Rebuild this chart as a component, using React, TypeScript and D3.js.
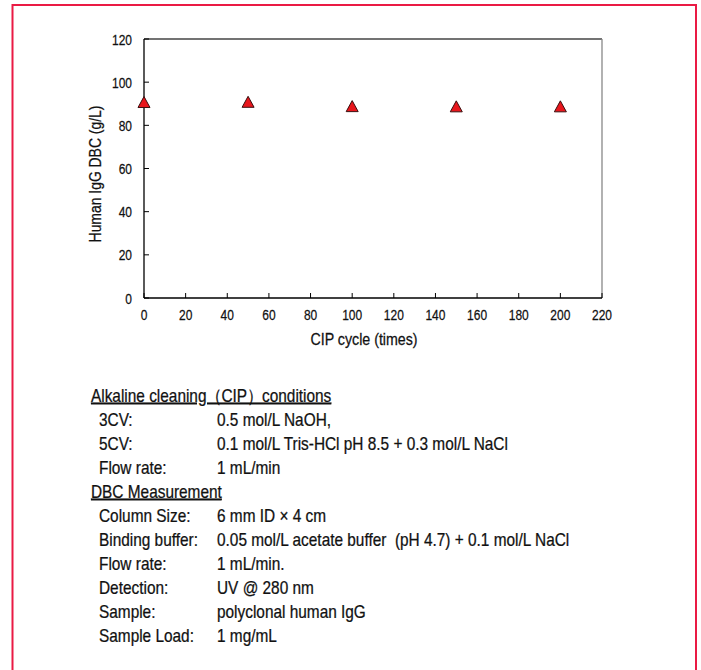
import React from 'react';
import * as d3 from 'd3';

// CIP cycle count vs dynamic binding capacity
const cycles = [0, 50, 100, 150, 200];
const dbcValues = [90.8, 90.9, 88.9, 88.8, 88.8];

const xTicks = [0, 20, 40, 60, 80, 100, 120, 140, 160, 180, 200, 220];
const yTicks = [0, 20, 40, 60, 80, 100, 120];

const xTitle = 'CIP cycle (times)';
const yTitle = 'Human IgG DBC (g/L)';

// conditions block under the chart
const cipHeader = 'Alkaline cleaning（CIP）conditions';
const cipRows = [
  ['3CV:', '0.5 mol/L NaOH,'],
  ['5CV:', '0.1 mol/L Tris-HCl pH 8.5 + 0.3 mol/L NaCl'],
  ['Flow rate:', '1 mL/min'],
];
const dbcHeader = 'DBC Measurement';
const dbcRows = [
  ['Column Size:', '6 mm ID × 4 cm'],
  ['Binding buffer:', '0.05 mol/L acetate buffer  (pH 4.7) + 0.1 mol/L NaCl'],
  ['Flow rate:', '1 mL/min.'],
  ['Detection:', 'UV @ 280 nm'],
  ['Sample:', 'polyclonal human IgG'],
  ['Sample Load:', '1 mg/mL'],
];

const W = 701;
const H = 670;
const FONT = '"Liberation Sans", Arial, sans-serif';

// condensed-looking text: squeeze horizontally around its anchor point
const T = ({ x, y, size, sx, anchor = 'start', rotate = 0, underline = false, children }: any) => (
  <text
    transform={`translate(${x},${y}) rotate(${rotate}) scale(${sx},1)`}
    textAnchor={anchor}
    fontSize={size}
    fill="#111"
    stroke="#111"
    strokeWidth={0.25}
    style={{ whiteSpace: 'pre', textDecoration: underline ? 'underline' : 'none' }}
  >
    {children}
  </text>
);

const App = () => {
  const x = d3.scaleLinear().domain([0, 220]).range([144, 602]);
  const y = d3.scaleLinear().domain([0, 120]).range([298, 39]);

  const triW = 12;
  const triH = 11;

  // all text lines in order: headers get underlined
  const lines: { label: string; value?: string; header?: boolean }[] = [
    { label: cipHeader, header: true },
    ...cipRows.map(([l, v]) => ({ label: l, value: v })),
    { label: dbcHeader, header: true },
    ...dbcRows.map(([l, v]) => ({ label: l, value: v })),
  ];

  return (
    <svg
      width={W}
      height={H}
      style={{ position: 'absolute', left: 0, top: 0, background: '#fff' }}
      fontFamily={FONT}
    >
      <rect x={12.5} y={5} width={683.5} height={700} fill="none" stroke="#ea1a44" strokeWidth={2} />

      {/* frame: top dark grey, right grey */}
      <line x1={x(0)} x2={x(220)} y1={y(120)} y2={y(120)} stroke="#444" strokeWidth={1.3} />
      <line x1={x(220)} x2={x(220)} y1={y(120)} y2={y(0)} stroke="#888" strokeWidth={1.3} />

      {/* x axis */}
      <line x1={x(0)} x2={x(220)} y1={y(0)} y2={y(0)} stroke="#000" strokeWidth={1.3} />
      {xTicks.map((t) => (
        <g key={'x' + t}>
          <line x1={x(t)} x2={x(t)} y1={y(0)} y2={y(0) - 5} stroke="#000" strokeWidth={1} />
          <T x={x(t)} y={320} size={15} sx={0.8} anchor="middle">
            {t}
          </T>
        </g>
      ))}

      {/* y axis */}
      <line x1={x(0)} x2={x(0)} y1={y(120)} y2={y(0)} stroke="#000" strokeWidth={1.3} />
      {yTicks.map((t) => (
        <g key={'y' + t}>
          <line x1={x(0)} x2={x(0) + 5} y1={y(t)} y2={y(t)} stroke="#000" strokeWidth={1} />
          <T x={132} y={y(t) + 5.5} size={15} sx={0.8} anchor="end">
            {t}
          </T>
        </g>
      ))}

      <T x={364} y={345} size={16} sx={0.89} anchor="middle">
        {xTitle}
      </T>
      <T x={101} y={174} size={16} sx={0.87} anchor="middle" rotate={-90}>
        {yTitle}
      </T>

      {/* markers */}
      {cycles.map((c, i) => {
        const cx = x(c);
        const cy = y(dbcValues[i]);
        return (
          <path
            key={'p' + c}
            d={`M${cx},${cy - triH / 2}L${cx + triW / 2},${cy + triH / 2}L${cx - triW / 2},${cy + triH / 2}Z`}
            fill="#e8161c"
            stroke="#3a1010"
            strokeWidth={1}
          />
        );
      })}

      {/* conditions text */}
      {lines.map((ln, i) => {
        const by = 401.5 + i * 24;
        if (ln.header) {
          return (
            <T key={'t' + i} x={91} y={by} size={17.5} sx={0.88} underline>
              {ln.label}
            </T>
          );
        }
        return (
          <g key={'t' + i}>
            <T x={99} y={by} size={17.5} sx={0.88}>
              {ln.label}
            </T>
            <T x={217} y={by} size={17.5} sx={0.88}>
              {ln.value}
            </T>
          </g>
        );
      })}
    </svg>
  );
};

export default App;
